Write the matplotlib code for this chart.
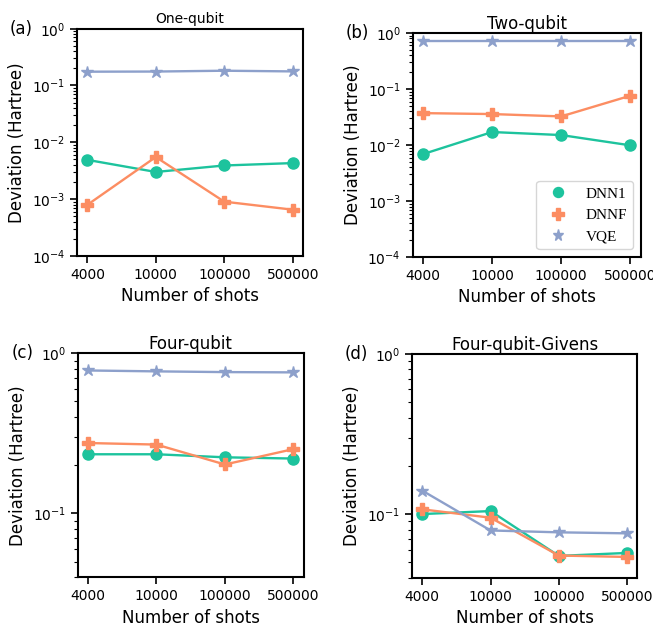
import numpy as np
import matplotlib
matplotlib.use('Agg')
import matplotlib.pyplot as plt
from matplotlib.ticker import NullFormatter

shots = ['4000', '10000', '100000', '500000']

titles = ['One-qubit', 'Two-qubit', 'Four-qubit', 'Four-qubit-Givens']
tags = ['(a)', '(b)', '(c)', '(d)']

dnn1 = [
    [0.0049, 0.0030, 0.0039, 0.0043],
    [0.0069, 0.0171, 0.0151, 0.0099],
    [0.234, 0.234, 0.224, 0.220],
    [0.100, 0.1044, 0.0548, 0.0572],
]
dnnf = [
    [0.00079, 0.0055, 0.00090, 0.00065],
    [0.0372, 0.0358, 0.0325, 0.076],
    [0.275, 0.269, 0.202, 0.252],
    [0.107, 0.0949, 0.0551, 0.0540],
]
vqe = [
    [0.175, 0.176, 0.182, 0.177],
    [0.73, 0.73, 0.73, 0.73],
    [0.78, 0.77, 0.762, 0.759],
    [0.140, 0.079, 0.0769, 0.0758],
]
ylims = [(1e-4, 1), (1e-4, 1), (0.04, 1), (0.04, 1)]

c1 = '#1dc39d'
c2 = '#fc8d62'
c3 = '#8da0cb'

fig = plt.figure(figsize=(6.53, 6.24), dpi=100)
boxes = [
    [0.118, 0.590, 0.346, 0.364],
    [0.632, 0.588, 0.349, 0.359],
    [0.119, 0.075, 0.346, 0.359],
    [0.631, 0.074, 0.345, 0.359],
]

x = np.arange(len(shots))
for i in range(4):
    ax = fig.add_axes(boxes[i])
    ax.plot(x, dnn1[i], '-o', color=c1, ms=8, lw=1.7, label='DNN1')
    ax.plot(x, dnnf[i], '-P', color=c2, ms=9, lw=1.7, label='DNNF')
    ax.plot(x, vqe[i], '-*', color=c3, ms=9, lw=1.7, label='VQE')
    ax.set_yscale('log')
    ax.set_ylim(*ylims[i])
    ax.set_xlim(-0.15, 3.15)
    ax.set_xticks(x)
    ax.set_xticklabels(shots)
    ax.yaxis.set_minor_formatter(NullFormatter())
    ax.tick_params(labelsize=10, width=1.2, length=5)
    ax.tick_params(which='minor', width=0.8, length=3)
    for s in ax.spines.values():
        s.set_linewidth(1.5)
    ax.set_xlabel('Number of shots', fontsize=12)
    ax.set_ylabel('Deviation (Hartree)', fontsize=12)
    if i == 0:
        ax.set_title(titles[i], fontsize=10, pad=4)
    else:
        ax.set_title(titles[i], fontsize=12, pad=3)
    b = boxes[i]
    fig.text(b[0] - 0.085, b[1] + b[3], tags[i], fontsize=12, va='center', ha='center')
    if i == 1:
        leg = ax.legend(loc='lower right', prop={'family': 'Liberation Serif', 'size': 11},
                        markerscale=0.9)
        for h in leg.legend_handles:
            h.set_linestyle('')

fig.savefig('out.png', dpi=100)
